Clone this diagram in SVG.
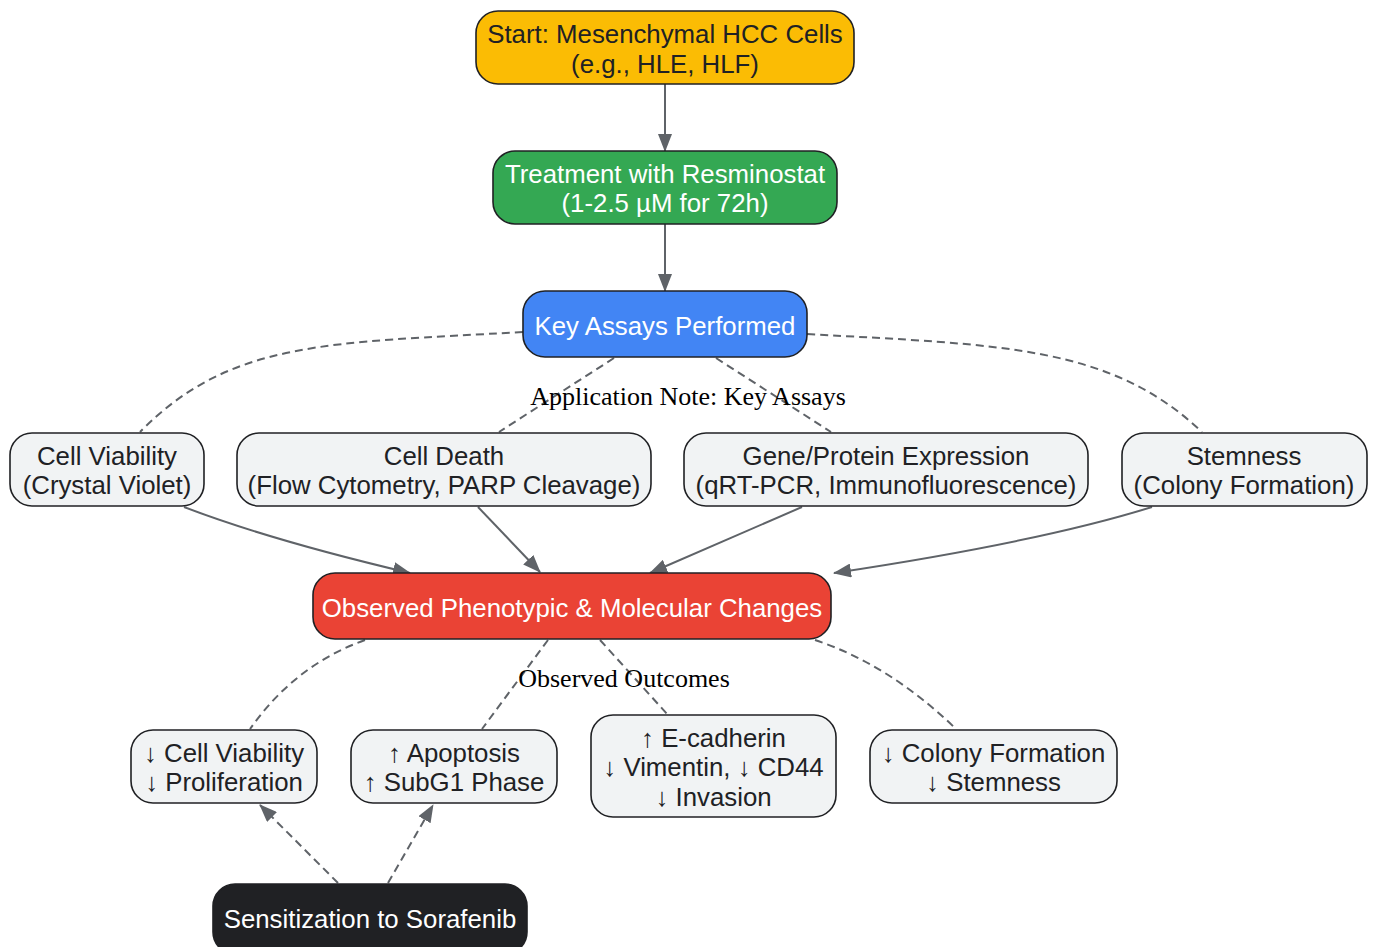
<svg xmlns="http://www.w3.org/2000/svg" width="1377" height="947" viewBox="0 0 1377 947">
<defs>
<marker id="ah" viewBox="0 0 18 14" refX="17" refY="7" markerWidth="18" markerHeight="14" markerUnits="userSpaceOnUse" orient="auto">
<path d="M0,0 L18,7 L0,14 Z" fill="#5f6368"/>
</marker>
<style>
.n{stroke:#202124;stroke-width:1.6}
.t{font-family:"Liberation Sans",Arial,sans-serif;font-size:25.8px;text-anchor:middle}
.d{fill:#202124}
.w{fill:#ffffff}
.e{fill:none;stroke:#5f6368;stroke-width:2}
.dash{stroke-dasharray:8,5}
.lbl{font-family:"Liberation Serif","Times New Roman",serif;font-size:26px;text-anchor:middle;fill:#000}
</style>
</defs>
<rect width="1377" height="947" fill="#ffffff"/>
<g id="connectors">
<path class="e" d="M665,84 L665,151" marker-end="url(#ah)"/>
<path class="e" d="M665,224 L665,291" marker-end="url(#ah)"/>
<path class="e dash" d="M523,332 C330,343 230,340 140,432"/>
<path class="e dash" d="M614,358 L499,432"/>
<path class="e dash" d="M716,358 L831,432"/>
<path class="e dash" d="M807,334 C1000,345 1110,345 1202,432"/>
<path class="e" d="M184,507 Q270,540 410,573" marker-end="url(#ah)"/>
<path class="e" d="M478,507 L540,572" marker-end="url(#ah)"/>
<path class="e" d="M802,507 L650,573" marker-end="url(#ah)"/>
<path class="e" d="M1152,507 Q1040,542 834,573" marker-end="url(#ah)"/>
<path class="e dash" d="M365,640 Q295,665 250,729"/>
<path class="e dash" d="M548,640 L482,729"/>
<path class="e dash" d="M600,640 L668,715"/>
<path class="e dash" d="M815,640 Q890,665 956,729"/>
<path class="e dash" d="M338,883 L260,805" marker-end="url(#ah)"/>
<path class="e dash" d="M388,883 L433,805" marker-end="url(#ah)"/>
<text class="lbl" x="688" y="405">Application Note: Key Assays</text>
<text class="lbl" x="624" y="687">Observed Outcomes</text>
</g>
<g id="start">
<rect class="n" x="476" y="11" width="378" height="73" rx="22" fill="#FBBC04"/>
<text class="t d" x="665" y="43">Start: Mesenchymal HCC Cells</text>
<text class="t d" x="665" y="73">(e.g., HLE, HLF)</text>
</g>
<g id="treatment">
<rect class="n" x="493" y="151" width="344" height="73" rx="22" fill="#34A853"/>
<text class="t w" x="665" y="183">Treatment with Resminostat</text>
<text class="t w" x="665" y="212">(1-2.5 µM for 72h)</text>
</g>
<g id="assays">
<rect class="n" x="523" y="291" width="284" height="66" rx="22" fill="#4285F4"/>
<text class="t w" x="665" y="335">Key Assays Performed</text>
</g>
<g id="viability">
<rect class="n" x="10" y="433" width="194" height="73" rx="22" fill="#F1F3F4"/>
<text class="t d" x="107" y="465">Cell Viability</text>
<text class="t d" x="107" y="494">(Crystal Violet)</text>
</g>
<g id="death">
<rect class="n" x="237" y="433" width="414" height="73" rx="22" fill="#F1F3F4"/>
<text class="t d" x="444" y="465">Cell Death</text>
<text class="t d" x="444" y="494">(Flow Cytometry, PARP Cleavage)</text>
</g>
<g id="expression">
<rect class="n" x="684" y="433" width="404" height="73" rx="22" fill="#F1F3F4"/>
<text class="t d" x="886" y="465">Gene/Protein Expression</text>
<text class="t d" x="886" y="494">(qRT-PCR, Immunofluorescence)</text>
</g>
<g id="stemness">
<rect class="n" x="1122" y="433" width="245" height="73" rx="22" fill="#F1F3F4"/>
<text class="t d" x="1244" y="465">Stemness</text>
<text class="t d" x="1244" y="494">(Colony Formation)</text>
</g>
<g id="observed">
<rect class="n" x="313" y="573" width="518" height="66" rx="22" fill="#EA4335"/>
<text class="t w" x="572" y="617">Observed Phenotypic &amp; Molecular Changes</text>
</g>
<g id="out-viability">
<rect class="n" x="131" y="730" width="186" height="73" rx="22" fill="#F1F3F4"/>
<text class="t d" x="224" y="762">↓ Cell Viability</text>
<text class="t d" x="224" y="791">↓ Proliferation</text>
</g>
<g id="out-apoptosis">
<rect class="n" x="351" y="730" width="206" height="73" rx="22" fill="#F1F3F4"/>
<text class="t d" x="454" y="762">↑ Apoptosis</text>
<text class="t d" x="454" y="791">↑ SubG1 Phase</text>
</g>
<g id="out-emt">
<rect class="n" x="591" y="715" width="245" height="102" rx="22" fill="#F1F3F4"/>
<text class="t d" x="713.5" y="747">↑ E-cadherin</text>
<text class="t d" x="713.5" y="776">↓ Vimentin, ↓ CD44</text>
<text class="t d" x="713.5" y="806">↓ Invasion</text>
</g>
<g id="out-colony">
<rect class="n" x="870" y="730" width="247" height="73" rx="22" fill="#F1F3F4"/>
<text class="t d" x="993.5" y="762">↓ Colony Formation</text>
<text class="t d" x="993.5" y="791">↓ Stemness</text>
</g>
<g id="sorafenib">
<rect class="n" x="213" y="884" width="314" height="70" rx="22" fill="#202124"/>
<text class="t w" x="370" y="928">Sensitization to Sorafenib</text>
</g>
</svg>
